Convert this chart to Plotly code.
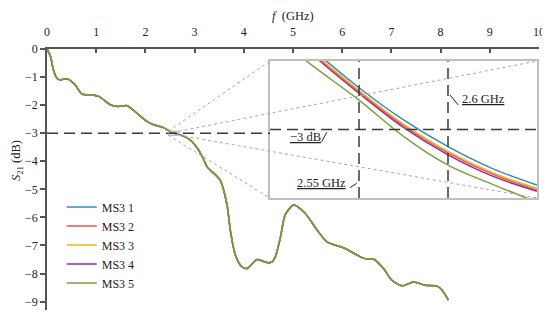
import plotly.graph_objects as go

# ---------------- data ----------------
series_names = ["MS3 1", "MS3 2", "MS3 3", "MS3 4", "MS3 5"]
series_colors = ["#2b8cc4", "#e8525a", "#f2b418", "#8e2c9c", "#76a33a"]

# main curve (all five measurements overlap at this scale)
freq_ghz = [0.00, 0.07, 0.13, 0.20, 0.27, 0.41, 0.57, 0.71, 0.88, 1.05,
            1.29, 1.45, 1.63, 1.83, 2.03, 2.17, 2.37, 2.54, 2.71, 2.91,
            3.08, 3.18, 3.25, 3.52, 3.66, 3.73, 3.83, 3.96, 4.07, 4.27,
            4.47, 4.57, 4.64, 4.74, 4.84, 5.01, 5.25, 5.49, 5.69, 6.06,
            6.44, 6.64, 6.84, 7.01, 7.22, 7.45, 7.69, 7.93, 8.03, 8.16]
s21_ms3_1 = [0.00, -0.26, -0.74, -1.04, -1.10, -1.06, -1.27, -1.61, -1.63, -1.69,
             -1.99, -2.05, -2.02, -2.29, -2.58, -2.70, -2.80, -2.98, -3.06, -3.24,
             -3.60, -3.92, -4.19, -4.67, -5.56, -6.51, -7.35, -7.76, -7.82, -7.50,
             -7.61, -7.59, -7.41, -6.75, -5.92, -5.56, -5.86, -6.45, -6.87, -7.11,
             -7.46, -7.49, -7.82, -8.24, -8.44, -8.30, -8.42, -8.45, -8.60, -8.95]
s21_ms3_2 = list(s21_ms3_1)
s21_ms3_3 = list(s21_ms3_1)
s21_ms3_4 = list(s21_ms3_1)
s21_ms3_5 = list(s21_ms3_1)

# zoomed inset around the -3 dB crossing
inset_freq = [2.500, 2.525, 2.550, 2.575, 2.600, 2.625, 2.650]
inset_ms3_1 = [-2.824, -2.885, -2.939, -2.986, -3.025, -3.057, -3.081]
inset_ms3_2 = [-2.830, -2.891, -2.945, -2.994, -3.034, -3.065, -3.088]
inset_ms3_3 = [-2.828, -2.889, -2.943, -2.992, -3.032, -3.063, -3.086]
inset_ms3_4 = [-2.832, -2.893, -2.947, -2.997, -3.037, -3.068, -3.090]
inset_ms3_5 = [-2.858, -2.909, -2.957, -3.010, -3.052, -3.080, -3.106]

x_ticks = [0, 1, 2, 3, 4, 5, 6, 7, 8, 9, 10]
y_ticks = [0, -1, -2, -3, -4, -5, -6, -7, -8, -9]
level_db = -3
marker_freqs = [2.55, 2.6]
marker_labels = ["2.55 GHz", "2.6 GHz"]

# ---------------- layout constants ----------------
FONT = "Liberation Serif, DejaVu Serif, serif"
PAGE_OFFSET = 8          # default body margin of the html page
X_RANGE = [0, 10]
Y_RANGE = [-9.3, 0]
IX_RANGE = [2.5, 2.65]
IY_RANGE = [-3.1, -2.9]
INSET_DX = [0.4533, 0.9959]
INSET_DY = [0.429, 0.954]
ZOOM_BOX = [2.465, 2.675, -3.07, -2.93]

main_series = [s21_ms3_1, s21_ms3_2, s21_ms3_3, s21_ms3_4, s21_ms3_5]
inset_series = [inset_ms3_1, inset_ms3_2, inset_ms3_3, inset_ms3_4, inset_ms3_5]

fig = go.Figure()
for name, color, ys in zip(series_names, series_colors, main_series):
    fig.add_trace(go.Scatter(x=freq_ghz, y=ys, name=name, mode="lines",
                             line=dict(color=color, width=1.5, shape="spline", smoothing=0.7),
                             xaxis="x", yaxis="y"))
inset_order = [4, 3, 1, 2, 0]
for i in inset_order:
    fig.add_trace(go.Scatter(x=inset_freq, y=inset_series[i], name=series_names[i], mode="lines",
                             line=dict(color=series_colors[i], width=1.5, shape="spline"),
                             xaxis="x2", yaxis="y2", showlegend=False))

axis_col = "#555555"
fig.update_layout(
    width=550 - PAGE_OFFSET, height=314 - PAGE_OFFSET,
    margin=dict(l=47 - PAGE_OFFSET, r=11, t=49 - PAGE_OFFSET, b=4),
    paper_bgcolor="white", plot_bgcolor="rgba(0,0,0,0)",
    font=dict(family=FONT, size=12, color="#222222"),
    xaxis=dict(range=X_RANGE, side="top", tickvals=x_ticks, showgrid=False, zeroline=False,
               showline=True, linecolor=axis_col, linewidth=1.5, ticks="inside",
               ticklen=4, tickwidth=1.5, tickcolor=axis_col, ticklabelstandoff=6,
               ticklabeloverflow="allow", tickfont=dict(size=12)),
    yaxis=dict(range=Y_RANGE, tickvals=y_ticks, showgrid=False, zeroline=False,
               showline=True, linecolor=axis_col, linewidth=1.5, ticks="outside",
               ticklen=5, tickwidth=1.5, tickcolor=axis_col, ticklabeloverflow="allow",
               tickfont=dict(size=12)),
    xaxis2=dict(domain=INSET_DX, range=IX_RANGE, anchor="y2", showgrid=False, zeroline=False,
                showline=True, mirror=True, linecolor="#c0c0c0", linewidth=1.5,
                showticklabels=False, ticks=""),
    yaxis2=dict(domain=INSET_DY, range=IY_RANGE, anchor="x2", showgrid=False, zeroline=False,
                showline=True, mirror=True, linecolor="#c0c0c0", linewidth=1.5,
                showticklabels=False, ticks=""),
    legend=dict(x=0.03, y=(310 - 245) / 261, xanchor="left", yanchor="middle",
                bgcolor="rgba(0,0,0,0)", font=dict(size=12), itemwidth=30),
)

shapes = []
# main -3 dB reference line up to the inset
shapes.append(dict(type="line", xref="x", yref="y", x0=X_RANGE[0], x1=INSET_DX[0] * X_RANGE[1],
                   y0=level_db, y1=level_db, line=dict(color="#3a3a3a", width=1.5, dash="11px,6px")))
# zoom box
shapes.append(dict(type="rect", xref="x", yref="y", x0=ZOOM_BOX[0], x1=ZOOM_BOX[1],
                   y0=ZOOM_BOX[2], y1=ZOOM_BOX[3], line=dict(color="#9aa8b6", width=1)))
# connector lines from zoom box to inset corners
def main_x(px): return X_RANGE[0] + px * (X_RANGE[1] - X_RANGE[0])
def main_y(py): return Y_RANGE[0] + py * (Y_RANGE[1] - Y_RANGE[0])
corners = [(ZOOM_BOX[0], ZOOM_BOX[3], INSET_DX[0], INSET_DY[1]),
           (ZOOM_BOX[1], ZOOM_BOX[3], INSET_DX[1], INSET_DY[1]),
           (ZOOM_BOX[0], ZOOM_BOX[2], INSET_DX[0], INSET_DY[0]),
           (ZOOM_BOX[1], ZOOM_BOX[2], INSET_DX[1], INSET_DY[0])]
for bx, by, ix, iy in corners:
    shapes.append(dict(type="line", xref="x", yref="y", x0=bx, y0=by, x1=main_x(ix), y1=main_y(iy),
                       line=dict(color="#a8a8a8", width=1, dash="dot"), layer="above"))
# inset reference lines
shapes.append(dict(type="line", xref="x2 domain", yref="y2", x0=0, x1=1, y0=level_db, y1=level_db,
                   line=dict(color="#3a3a3a", width=1.5, dash="11px,6px")))
for f in marker_freqs:
    shapes.append(dict(type="line", xref="x2", yref="y2 domain", x0=f, x1=f, y0=0, y1=1,
                       line=dict(color="#3a3a3a", width=1.5, dash="11px,6px")))
# leader lines for labels
leaders = [(2.6011, -2.9496, 2.6058, -2.9642),
           (2.5290, -3.0178, 2.5319, -3.0041),
           (2.5449, -3.0850, 2.5487, -3.0785)]
for x0, y0, x1, y1 in leaders:
    shapes.append(dict(type="line", xref="x2", yref="y2", x0=x0, y0=y0, x1=x1, y1=y1,
                       line=dict(color="#222222", width=1)))
fig.update_layout(shapes=shapes)

def px_x(px): return (px - 47) / 492
def px_y(py): return (310 - py) / 261

annotations = [
    dict(text="<u>" + marker_labels[1] + "</u>", xref="x2", yref="y2", x=2.6202, y=-2.9555,
         showarrow=False, xanchor="center", yanchor="middle", font=dict(size=12.5)),
    dict(text="<u>\u22123 dB</u>", xref="x2", yref="y2", x=2.5197, y=-3.011,
         showarrow=False, xanchor="center", yanchor="middle", font=dict(size=12.5)),
    dict(text="<u>" + marker_labels[0] + "</u>", xref="x2", yref="y2", x=2.5290, y=-3.0786,
         showarrow=False, xanchor="center", yanchor="middle", font=dict(size=12.5)),
    dict(text="<i>f</i>  (GHz)", xref="paper", yref="paper", x=px_x(293), y=px_y(16),
         showarrow=False, xanchor="center", yanchor="middle", font=dict(size=12.5)),
    dict(text="<i>S</i><sub>21</sub> (dB)", xref="paper", yref="paper", x=px_x(17),
         y=px_y(161), showarrow=False, textangle=-90, xanchor="center", yanchor="middle",
         font=dict(size=12.5)),
]
fig.update_layout(annotations=annotations)

fig.write_html("out.html")
